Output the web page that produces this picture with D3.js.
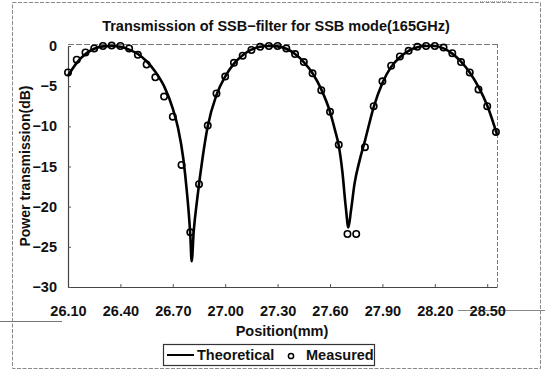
<!DOCTYPE html>
<html>
<head>
<meta charset="utf-8">
<script src="https://cdn.jsdelivr.net/npm/d3@7"></script>
<style>
  html, body { margin: 0; padding: 0; background: #fff; }
  svg { display: block; font-family: "Liberation Sans", Arial, sans-serif; }
</style>
</head>
<body>
<svg id="chart" width="545" height="372"></svg>
<script>
// ---- Data ----
const measuredX = [26.10, 26.15, 26.20, 26.25, 26.30, 26.35, 26.40, 26.45, 26.50, 26.55,
                   26.60, 26.65, 26.70, 26.75, 26.80, 26.85, 26.90, 26.95, 27.00, 27.05,
                   27.10, 27.15, 27.20, 27.25, 27.30, 27.35, 27.40, 27.45, 27.50, 27.55,
                   27.60, 27.65, 27.70, 27.75, 27.80, 27.85, 27.90, 27.95, 28.00, 28.05,
                   28.10, 28.15, 28.20, 28.25, 28.30, 28.35, 28.40, 28.45, 28.50, 28.55];
const measuredY = [-3.3, -1.7, -0.8, -0.3, 0.0, 0.05, 0.0, -0.3, -1.1, -2.3,
                   -3.9, -6.3, -8.8, -14.8, -23.2, -17.2, -9.9, -5.9, -3.8, -2.1,
                   -1.2, -0.5, -0.1, 0.0, 0.0, -0.3, -1.0, -2.0, -3.4, -5.5,
                   -8.2, -12.3, -23.4, -23.4, -12.6, -7.5, -4.4, -2.45, -1.3, -0.6,
                   -0.1, 0.0, 0.0, -0.2, -0.9, -2.0, -3.3, -5.4, -7.5, -10.7];

const theoryX = [26.10, 26.15, 26.20, 26.25, 26.30, 26.35, 26.40, 26.45, 26.50, 26.55,
                 26.60, 26.65, 26.70, 26.73, 26.76, 26.78, 26.80, 26.808, 26.82, 26.84,
                 26.87, 26.90, 26.95, 27.00, 27.05, 27.10, 27.15, 27.20, 27.25, 27.30,
                 27.35, 27.40, 27.45, 27.50, 27.55, 27.60, 27.63, 27.65, 27.67, 27.69,
                 27.705, 27.72, 27.74, 27.77, 27.80, 27.85, 27.90, 27.95, 28.00, 28.05,
                 28.10, 28.15, 28.20, 28.25, 28.30, 28.35, 28.40, 28.45, 28.50, 28.556];
const theoryY = [-3.7, -2.1, -1.0, -0.35, -0.05, 0.0, -0.1, -0.45, -1.0, -1.9,
                 -3.2, -5.0, -7.8, -10.2, -14.0, -18.0, -23.5, -26.8, -23.0, -19.0,
                 -14.0, -10.0, -6.1, -3.8, -2.2, -1.15, -0.45, -0.1, 0.0, -0.05,
                 -0.35, -1.0, -2.0, -3.4, -5.4, -8.2, -10.6, -12.4, -15.5, -20.0,
                 -22.6, -20.5, -17.2, -14.2, -11.8, -7.6, -4.6, -2.6, -1.4, -0.6,
                 -0.15, 0.0, 0.0, -0.3, -0.95, -1.95, -3.3, -5.1, -7.4, -11.0];

const xTicks = [26.10, 26.40, 26.70, 27.00, 27.30, 27.60, 27.90, 28.20, 28.50];
const yTicks = [0, -5, -10, -15, -20, -25, -30];

const titleText = "Transmission of SSB\u2212filter for SSB mode(165GHz)";
const xTitle = "Position(mm)";
const yTitle = "Power transmission(dB)";
const seriesNames = ["Theoretical", "Measured"];

// ---- Layout ----
const svg = d3.select("#chart");
const L = 68, R = 497, T = 46, B = 287;
const x = d3.scaleLinear().domain([26.10, 28.556]).range([L, R]);
const y = d3.scaleLinear().domain([-30, 0]).range([B, T]);
const fontTick = 14.5;

// outer frame (dotted scan frame)
svg.append("rect").attr("x", 12.5).attr("y", 2.5).attr("width", 528).attr("height", 366)
  .attr("fill", "none").attr("stroke", "#8a8a8a").attr("stroke-width", 1)
  .attr("stroke-dasharray", "4,1.5");
// scan artifact lines
svg.append("line").attr("x1", 0).attr("x2", 62).attr("y1", 321.5).attr("y2", 321.5)
  .attr("stroke", "#777").attr("stroke-width", 1);
svg.append("line").attr("x1", 458).attr("x2", 545).attr("y1", 310.5).attr("y2", 310.5)
  .attr("stroke", "#888").attr("stroke-width", 1);
svg.append("line").attr("x1", 480).attr("x2", 512).attr("y1", 1.5).attr("y2", 1.5)
  .attr("stroke", "#aaa").attr("stroke-width", 1).attr("stroke-dasharray", "1,1");

// plot frame: top and right dotted gray
svg.append("line").attr("x1", L).attr("x2", R).attr("y1", T - 1.5).attr("y2", T - 1.5)
  .attr("stroke", "#777").attr("stroke-width", 1).attr("stroke-dasharray", "6,2");
svg.append("line").attr("x1", R + 0.5).attr("x2", R + 0.5).attr("y1", T - 2).attr("y2", B)
  .attr("stroke", "#777").attr("stroke-width", 1).attr("stroke-dasharray", "4,2");

// axes
const xAxis = d3.axisBottom(x).tickValues(xTicks).tickSizeInner(-3).tickSizeOuter(0)
  .tickPadding(19).tickFormat(d3.format(".2f"));
const gx = svg.append("g").attr("transform", `translate(0,${B})`).call(xAxis);
const yAxis = d3.axisLeft(y).tickValues(yTicks).tickSizeInner(-3).tickSizeOuter(0)
  .tickPadding(11).tickFormat(d3.format("d"));
const gy = svg.append("g").attr("transform", `translate(${L},0)`).call(yAxis);
[gx, gy].forEach(g => {
  g.select(".domain").attr("stroke", "#444").attr("stroke-width", 1.2);
  g.selectAll(".tick line").attr("stroke", "#555");
  g.selectAll(".tick text").attr("font-size", fontTick).attr("fill", "#111")
    .attr("font-family", "Liberation Sans, Arial, sans-serif").attr("font-weight", "bold");
});

// title
const tt = svg.append("text").attr("x", 276).attr("y", 31).attr("text-anchor", "middle")
  .attr("font-size", 14).attr("font-weight", "bold").attr("fill", "#111").text(titleText);
const tw = tt.node().getComputedTextLength();
if (tw > 0) tt.attr("font-size", 14 * 348 / tw);
// x title
svg.append("text").attr("x", 282).attr("y", 336).attr("text-anchor", "middle")
  .attr("font-size", 14.5).attr("font-weight", "bold").attr("fill", "#111").text(xTitle);
// y title
svg.append("text").attr("transform", "translate(30,166) rotate(-90)").attr("text-anchor", "middle")
  .attr("font-size", 14).attr("font-weight", "bold").attr("fill", "#111").text(yTitle);

// theoretical curve
const line = d3.line().x((d, i) => x(theoryX[i])).y((d, i) => y(theoryY[i]))
  .curve(d3.curveMonotoneX);
svg.append("path").attr("d", line(theoryX)).attr("fill", "none")
  .attr("stroke", "#000").attr("stroke-width", 2.6).attr("stroke-linejoin", "round");

// measured points
svg.append("g").selectAll("circle").data(measuredX).join("circle")
  .attr("cx", d => x(d)).attr("cy", (d, i) => y(measuredY[i])).attr("r", 3.2)
  .attr("fill", "none").attr("stroke", "#000").attr("stroke-width", 1.6);

// legend
const lg = svg.append("g");
lg.append("rect").attr("x", 163.5).attr("y", 344.5).attr("width", 211).attr("height", 21)
  .attr("fill", "#fff").attr("stroke", "#333").attr("stroke-width", 1.2);
lg.append("line").attr("x1", 167).attr("x2", 194).attr("y1", 355).attr("y2", 355)
  .attr("stroke", "#000").attr("stroke-width", 2);
lg.append("text").attr("x", 197).attr("y", 360).attr("font-size", 14.5).attr("font-weight", "bold")
  .attr("fill", "#111").text(seriesNames[0]);
lg.append("circle").attr("cx", 291).attr("cy", 356).attr("r", 2.6)
  .attr("fill", "none").attr("stroke", "#000").attr("stroke-width", 1.5);
lg.append("text").attr("x", 306).attr("y", 360).attr("font-size", 14.5).attr("font-weight", "bold")
  .attr("fill", "#111").text(seriesNames[1]);
</script>
</body>
</html>
